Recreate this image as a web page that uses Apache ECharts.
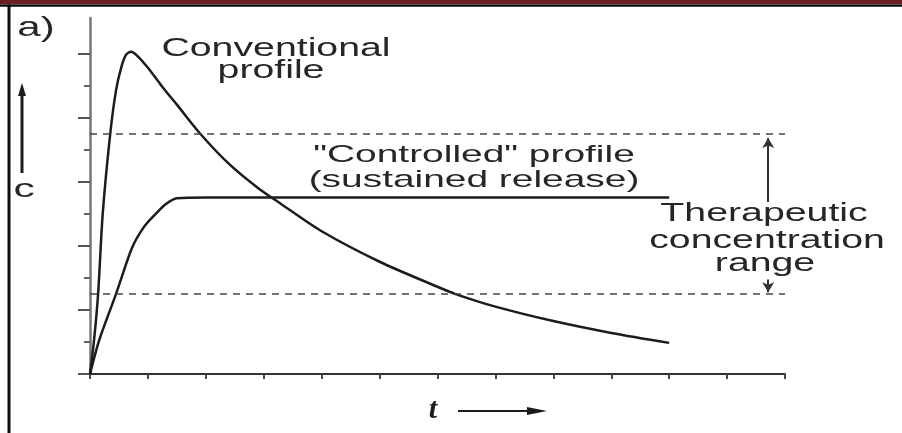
<!DOCTYPE html>
<html>
<head>
<meta charset="utf-8">
<script src="https://cdn.jsdelivr.net/npm/echarts@6/dist/echarts.min.js"></script>
<style>
  html, body { margin: 0; padding: 0; background: #fff; }
  #container { width: 902px; height: 433px; }
</style>
</head>
<body>
<div id="container"></div>
<script>
// values: time t, concentration c
var conventionalT = [0, 0.07, 0.14, 0.22, 0.35, 0.45, 0.54, 0.62, 0.71, 0.8, 1.0, 1.25, 1.5, 1.9, 2.4, 2.9, 3.3, 4, 5, 6, 6.3, 7, 8, 9, 10];
var conventionalC = [0, 1.06, 2.5, 5, 7.5, 8.85, 9.56, 9.95, 10.05, 9.95, 9.55, 8.95, 8.4, 7.5, 6.55, 5.8, 5.3, 4.45, 3.5, 2.72, 2.5, 2.1, 1.65, 1.28, 0.97];
var controlledT = [0, 0.16, 0.45, 0.73, 0.93, 1.14, 1.31, 1.5, 2.0, 10];
var controlledC = [0, 1.06, 2.5, 3.95, 4.58, 5.0, 5.3, 5.48, 5.5, 5.5];
var rangeLow = 2.5;
var rangeHigh = 7.5;
var yMinorTicks = [1, 3, 5, 7, 9];
var yMajorTicks = [0, 2, 4, 6, 8, 10];

function zip(a, b) {
  return a.map(function (v, i) { return [v, b[i]]; });
}

var ink = '#1c1c1c';
var font = "'Liberation Sans', Arial, sans-serif";

function label(text, x, y, size, sx) {
  return {
    type: 'text', x: x, y: y, scaleX: sx, z: 10,
    style: {
      text: text, font: size + 'px ' + font, fill: '#262626',
      align: 'center', verticalAlign: 'middle',
      textAlign: 'center', textVerticalAlign: 'middle'
    }
  };
}

var option = {
  animation: false,
  backgroundColor: '#ffffff',
  grid: { left: 90, right: 117, top: 18, bottom: 59 },
  xAxis: {
    type: 'value', min: 0, max: 12, interval: 1,
    axisLine: { lineStyle: { color: '#333', width: 2 } },
    axisTick: { show: true, length: 5, inside: false, lineStyle: { color: '#444', width: 2 } },
    axisLabel: { show: false },
    splitLine: { show: false }
  },
  yAxis: [
    {
      type: 'value', min: 0, max: 11.1, position: 'left',
      axisLine: { show: true, lineStyle: { color: '#777', width: 2.5 } },
      axisTick: { show: true, length: 6, customValues: yMinorTicks, lineStyle: { color: '#666', width: 2 } },
      axisLabel: { show: false },
      splitLine: { show: false }
    },
    {
      type: 'value', min: 0, max: 11.1, position: 'left',
      axisLine: { show: false },
      axisTick: { show: true, length: 12, customValues: yMajorTicks, lineStyle: { color: '#555', width: 2 } },
      axisLabel: { show: false },
      splitLine: { show: false }
    }
  ],
  series: [
    {
      name: 'Conventional', type: 'line', data: zip(conventionalT, conventionalC),
      smooth: 0.3, symbol: 'none',
      lineStyle: { color: ink, width: 2.5 }
    },
    {
      name: 'Controlled', type: 'line', data: zip(controlledT, controlledC),
      smooth: 0.3, symbol: 'none',
      lineStyle: { color: ink, width: 2.5 }
    },
    {
      name: 'range', type: 'line', data: [], silent: true,
      markLine: {
        silent: true, symbol: 'none', label: { show: false },
        lineStyle: { color: '#444', width: 1.5, type: [7, 6] },
        data: [
          [{ coord: [0, rangeHigh] }, { coord: [12, rangeHigh] }],
          [{ coord: [0, rangeLow] }, { coord: [12, rangeLow] }]
        ]
      }
    },
    {
      name: 'arrows', type: 'line', data: [], silent: true,
      markLine: {
        silent: true, symbol: ['none', 'arrow'], symbolSize: [9, 10], label: { show: false },
        lineStyle: { color: '#333', width: 2, type: 'solid' },
        data: [
          [{ coord: [11.71, 5.36] }, { coord: [11.71, 7.36] }],
          [{ coord: [11.71, 2.95] }, { coord: [11.71, 2.55] }]
        ]
      }
    }
  ],
  graphic: [
    // frame
    { type: 'rect', shape: { x: 0, y: 0, width: 902, height: 4.5 }, style: { fill: '#6a1f23' }, z: 20 },
    { type: 'rect', shape: { x: 0, y: 4.5, width: 902, height: 2.2 }, style: { fill: '#0d0d0d' }, z: 20 },
    { type: 'rect', shape: { x: 7.5, y: 4.5, width: 3, height: 430 }, style: { fill: '#0d0d0d' }, z: 20 },
    // panel letter
    label('a)', 36, 28, 28, 1.5),
    // axis names
    { type: 'line', shape: { x1: 22, y1: 173, x2: 22, y2: 92 }, style: { stroke: ink, lineWidth: 3 }, z: 10 },
    { type: 'polygon', shape: { points: [[22, 83], [18, 96], [26, 96]] }, style: { fill: ink }, z: 10 },
    label('c', 24, 190, 25, 1.7),
    {
      type: 'text', x: 433, y: 410, z: 10,
      style: {
        text: 't', font: "italic bold 30px 'Liberation Serif', serif", fill: ink,
        align: 'center', verticalAlign: 'middle', textAlign: 'center', textVerticalAlign: 'middle'
      }
    },
    { type: 'line', shape: { x1: 458, y1: 411, x2: 532, y2: 411 }, style: { stroke: ink, lineWidth: 2 }, z: 10 },
    { type: 'polygon', shape: { points: [[547, 411], [527, 407], [527, 415]] }, style: { fill: ink }, z: 10 },
    // annotations
    label('Conventional', 276, 49, 25, 1.57),
    label('profile', 271, 71, 25, 1.57),
    label('"Controlled" profile', 474, 155, 24, 1.62),
    label('(sustained release)', 474, 180, 24, 1.62),
    label('Therapeutic', 764, 214, 25, 1.57),
    label('concentration', 767, 241, 25, 1.57),
    label('range', 765, 264, 25, 1.57)
  ]
};

var chart = echarts.init(document.getElementById('container'));
chart.setOption(option);
</script>
</body>
</html>
